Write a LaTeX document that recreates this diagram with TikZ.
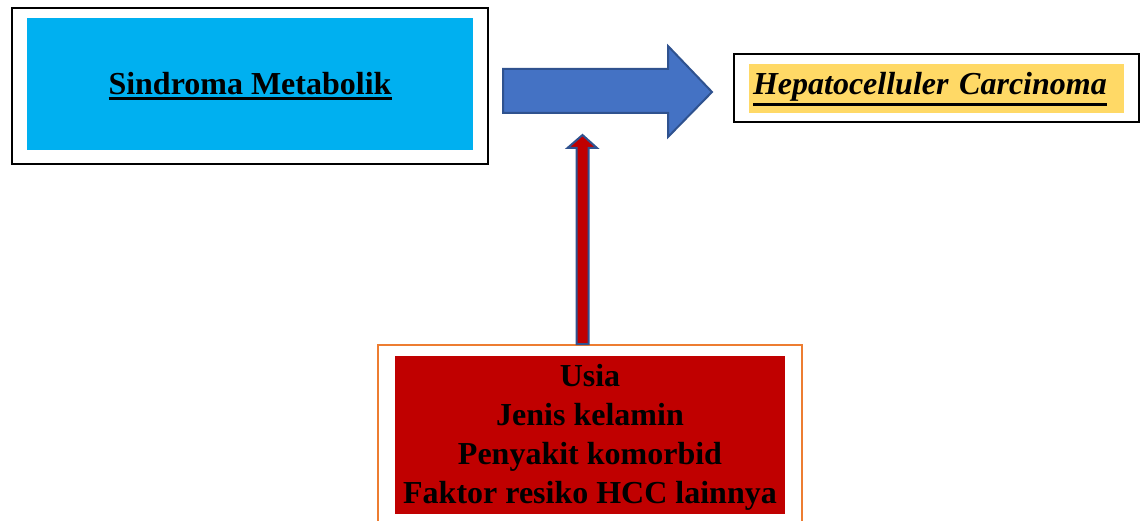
\documentclass[tikz,border=0pt]{standalone}
\usepackage{fontspec}
\setmainfont{Liberation Serif}
\definecolor{smblue}{HTML}{00B0F0}
\definecolor{hccgold}{HTML}{FFD966}
\definecolor{riskred}{HTML}{C00000}
\definecolor{arrowblue}{HTML}{4472C4}
\definecolor{arrowedge}{HTML}{2F528F}
\definecolor{frameorange}{HTML}{ED7D31}
% thick underline as in the original
\newcommand{\ulbold}[1]{\leavevmode\setbox0=\hbox{#1}\vtop{\copy0\kern1.5pt\hrule height 2.8pt width \wd0}}
\tikzset{
  bigtext/.style={font=\fontsize{32}{39}\selectfont\bfseries},
  frame/.style={draw, line width=2pt, inner sep=0pt},
  blockarrow/.style={draw=arrowedge, line width=2pt, line join=miter}
}
\begin{document}
\begin{tikzpicture}[x=1pt,y=-1pt]
  \useasboundingbox (0,0) rectangle (1143,521);
  % Sindroma Metabolik
  \node[frame, minimum width=476, minimum height=156] (smframe) at (250,86) {};
  \node[bigtext, fill=smblue, minimum width=446, minimum height=132, inner sep=0pt,
        text height=30pt, text depth=8pt] (sindrom) at (250,84) {\ulbold{Sindroma Metabolik}};
  % Hepatocelluler Carcinoma
  \node[frame, minimum width=405, minimum height=68] (hccframe) at (936.5,88) {};
  \node[bigtext, fill=hccgold, minimum width=375, minimum height=49, inner xsep=4pt, inner ysep=0pt,
        text width=367, align=left, text height=25pt, text depth=12pt] (hcc) at (936.5,88.5)
        {\itshape\ulbold{Hepatocelluler Carcinoma}};
  % faktor lain
  \draw[draw=frameorange, line width=2pt] (377.5,344.5) rectangle (802,540);
  \node[bigtext, fill=riskred, minimum width=390, minimum height=158, inner sep=0pt, align=center]
        (faktor) at (590,435) {\rule{0pt}{26pt}Usia\\Jenis kelamin\\Penyakit komorbid\\Faktor resiko HCC lainnya};
  % panah utama
  \draw[blockarrow, fill=arrowblue] (503,69) -- (668,69) -- (668,46) -- (712,92)
        -- (668,137) -- (668,113) -- (503,113) -- cycle;
  % panah dari faktor lain
  \draw[blockarrow, fill=riskred] (576.5,344) -- (576.5,148) -- (567.5,148) -- (582.5,135)
        -- (597,148) -- (588.5,148) -- (588.5,344) -- cycle;
\end{tikzpicture}
\end{document}
